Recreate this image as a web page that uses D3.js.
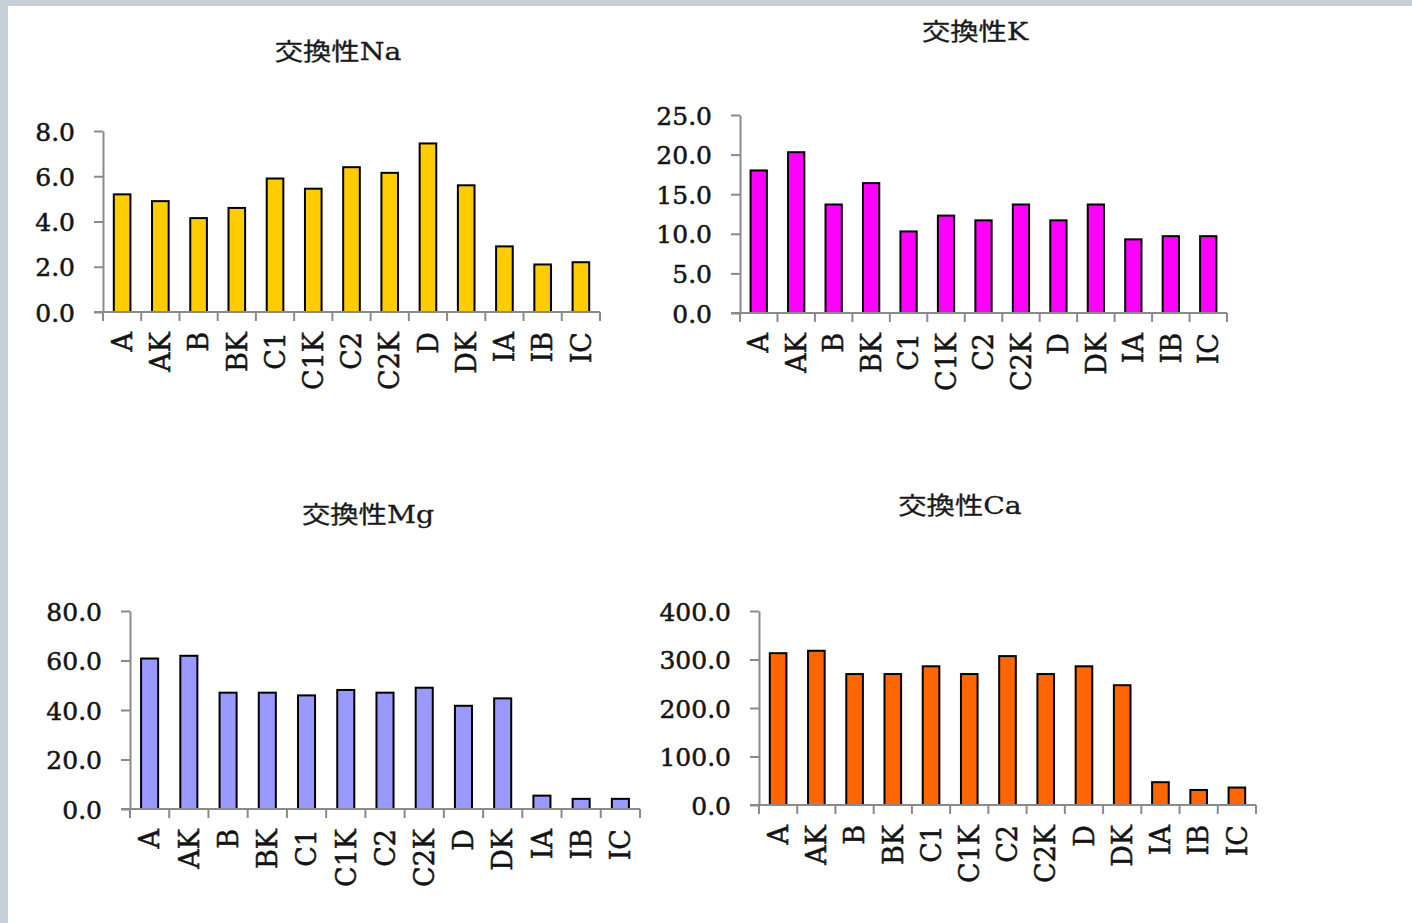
<!DOCTYPE html>
<html>
<head>
<meta charset="utf-8">
<script src="https://cdn.jsdelivr.net/npm/d3@7"></script>
<style>
  html, body { margin: 0; padding: 0; background: #fff; }
  svg { display: block; }
  .tick text, .lbl { font-family: "DejaVu Serif", "Liberation Serif", serif; fill: #141414; stroke: #141414; stroke-width: 0.5px; }
  .title { font-family: "DejaVu Serif", "Noto Sans CJK JP", serif; fill: #1a1a1a; stroke: #1a1a1a; stroke-width: 0.3px; }
</style>
</head>
<body>
<svg id="chart" width="1412" height="923"></svg>
<script>
// Soil horizons shared by all four panels
const categories = ["A", "AK", "B", "BK", "C1", "C1K", "C2", "C2K", "D", "DK", "IA", "IB", "IC"];

// Exchangeable cations per horizon
const naValues = [5.2, 4.9, 4.15, 4.6, 5.9, 5.45, 6.4, 6.15, 7.45, 5.6, 2.9, 2.1, 2.2];
const kValues  = [18.0, 20.3, 13.7, 16.4, 10.3, 12.3, 11.7, 13.7, 11.7, 13.7, 9.3, 9.7, 9.7];
const mgValues = [60.8, 61.9, 47.0, 47.0, 45.9, 48.1, 47.0, 49.0, 41.7, 44.7, 5.4, 4.1, 4.1];
const caValues = [313, 318, 270, 270, 286, 270, 307, 270, 286, 247, 47, 31, 36];

// Y tick labels per panel
const naTicks = [0, 2, 4, 6, 8];
const kTicks  = [0, 5, 10, 15, 20, 25];
const mgTicks = [0, 20, 40, 60, 80];
const caTicks = [0, 100, 200, 300, 400];

const titles = ["交換性Na", "交換性K", "交換性Mg", "交換性Ca"];

const panels = [
  { title: titles[0], values: naValues, ticks: naTicks, fill: "#FFCC00",
    x0: 103, x1: 600, yBase: 312, yTop: 131, tx: 338, ty: 51 },
  { title: titles[1], values: kValues, ticks: kTicks, fill: "#FF00FF",
    x0: 740, x1: 1227, yBase: 313, yTop: 115, tx: 975, ty: 31 },
  { title: titles[2], values: mgValues, ticks: mgTicks, fill: "#9999FF",
    x0: 130, x1: 640, yBase: 809, yTop: 611, tx: 368, ty: 514 },
  { title: titles[3], values: caValues, ticks: caTicks, fill: "#FF6600",
    x0: 759, x1: 1256, yBase: 805, yTop: 611, tx: 960, ty: 505 }
];

const svg = d3.select("#chart");

// window frame strips
svg.append("rect").attr("x", 0).attr("y", 0).attr("width", 1412).attr("height", 6).attr("fill", "#c5d0d8");
svg.append("rect").attr("x", 0).attr("y", 0).attr("width", 8).attr("height", 923).attr("fill", "#c5d0d8");

const axisColor = "#8a8a8a";
const gap = 1.3; // gap width relative to bar width
const inner = gap / (1 + gap);

panels.forEach(p => {
  const g = svg.append("g");

  const x = d3.scaleBand()
    .domain(categories)
    .range([p.x0, p.x1])
    .paddingInner(inner)
    .paddingOuter(inner / 2);

  const y = d3.scaleLinear()
    .domain([0, d3.max(p.ticks)])
    .range([p.yBase, p.yTop]);

  // bars
  g.selectAll("rect.bar")
    .data(p.values)
    .join("rect")
    .attr("class", "bar")
    .attr("x", (d, i) => x(categories[i]))
    .attr("width", x.bandwidth())
    .attr("y", d => y(d))
    .attr("height", d => y(0) - y(d))
    .attr("fill", p.fill)
    .attr("stroke", "#000")
    .attr("stroke-width", 2);

  // value axis
  const yAxis = g.append("g")
    .attr("transform", `translate(${p.x0},0)`)
    .call(d3.axisLeft(y).tickValues(p.ticks).tickFormat(d3.format(".1f"))
      .tickSize(9).tickSizeOuter(0).tickPadding(19));
  yAxis.select(".domain").attr("stroke", axisColor).attr("stroke-width", 2);
  yAxis.selectAll(".tick line").attr("stroke", axisColor).attr("stroke-width", 2);
  yAxis.selectAll(".tick text").attr("font-size", 25).attr("dy", "0.36em");

  // category axis: labels centred on bars, ticks on band boundaries
  const xAxis = g.append("g")
    .attr("transform", `translate(0,${p.yBase})`)
    .call(d3.axisBottom(x).tickSize(0).tickPadding(0));
  xAxis.select(".domain").remove();
  xAxis.selectAll(".tick text")
    .attr("font-size", 27)
    .attr("text-anchor", "end")
    .attr("transform", "translate(0,20) rotate(-90)")
    .attr("x", 0).attr("y", 0).attr("dy", "0.36em");

  const step = x.step();
  const bounds = d3.range(categories.length + 1).map(i => x.range()[0] + i * step);
  g.append("line")
    .attr("x1", p.x0 - 9).attr("x2", p.x1)
    .attr("y1", p.yBase).attr("y2", p.yBase)
    .attr("stroke", axisColor).attr("stroke-width", 2);
  g.selectAll("line.xt")
    .data(bounds)
    .join("line")
    .attr("class", "xt")
    .attr("x1", d => d).attr("x2", d => d)
    .attr("y1", p.yBase).attr("y2", p.yBase + 9)
    .attr("stroke", axisColor).attr("stroke-width", 2);

  // title
  g.append("text")
    .attr("class", "title")
    .attr("transform", `translate(${p.tx},${p.ty}) scale(1.18,1)`)
    .attr("text-anchor", "middle")
    .attr("dy", "0.36em")
    .attr("font-size", 24)
    .text(p.title);
});
</script>
</body>
</html>
